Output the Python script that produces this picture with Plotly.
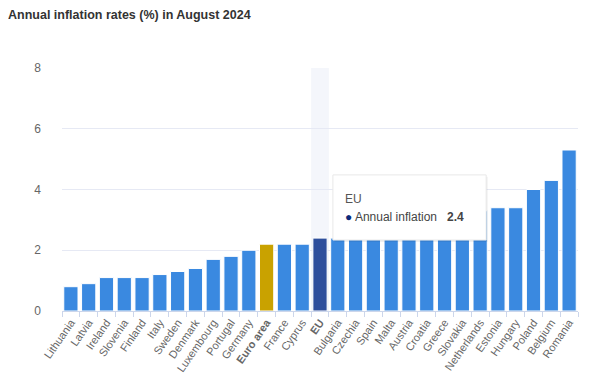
import plotly.graph_objects as go

countries = ["Lithuania", "Latvia", "Ireland", "Slovenia", "Finland", "Italy", "Sweden",
             "Denmark", "Luxembourg", "Portugal", "Germany", "Euro area", "France", "Cyprus",
             "EU", "Bulgaria", "Czechia", "Spain", "Malta", "Austria", "Croatia", "Greece",
             "Slovakia", "Netherlands", "Estonia", "Hungary", "Poland", "Belgium", "Romania"]
inflation = [0.8, 0.9, 1.1, 1.1, 1.1, 1.2, 1.3, 1.4, 1.7, 1.8, 2.0, 2.2, 2.2, 2.2,
             2.4, 2.4, 2.4, 2.4, 2.5, 2.5, 3.0, 3.2, 3.2, 3.3, 3.4, 3.4, 4.0, 4.3, 5.3]
y_ticks = [0, 2, 4, 6, 8]

BLUE = "#3a89e0"
GOLD = "#c9a200"
NAVY = "#2e4f9c"
colors = [GOLD if c == "Euro area" else NAVY if c == "EU" else BLUE for c in countries]
ticktext = [f"<b>{c}</b>" if c in ("Euro area", "EU") else c for c in countries]

fig = go.Figure()
fig.add_trace(go.Bar(
    x=countries, y=inflation, marker=dict(color=colors, line=dict(color="white", width=1)),
    name="Annual inflation", hoverinfo="skip",
))

eu_idx = countries.index("EU")
fig.add_shape(type="rect", xref="x", yref="paper", x0=eu_idx - 0.5, x1=eu_idx + 0.5,
              y0=0, y1=1, fillcolor="rgba(204,214,235,0.22)", line=dict(width=0), layer="below")

# tooltip box
tx0, tx1, ty0, ty1 = 0.525, 0.822, 0.292, 0.560
fig.add_shape(type="rect", xref="paper", yref="paper", x0=tx0 + 0.003, x1=tx1 + 0.003,
              y0=ty0 - 0.008, y1=ty1 - 0.008, fillcolor="rgba(0,0,0,0.06)", line=dict(width=0))
fig.add_shape(type="rect", xref="paper", yref="paper", x0=tx0, x1=tx1, y0=ty0, y1=ty1,
              fillcolor="white", line=dict(color="#e8e8e8", width=1))
fig.add_annotation(xref="paper", yref="paper", x=tx0 + 0.02, y=0.462, text="EU",
                   showarrow=False, xanchor="left", yanchor="middle",
                   font=dict(size=12, color="#555", family="Liberation Sans"))
fig.add_annotation(xref="paper", yref="paper", x=tx0 + 0.02, y=0.388,
                   text="<span style='color:#0b2a7a'>●</span> Annual inflation   <b>2.4</b>",
                   showarrow=False, xanchor="left", yanchor="middle",
                   font=dict(size=12, color="#444", family="Liberation Sans"))

# page body has an 8px default margin; size the figure to fit the 600x374 window
fig.update_layout(
    width=592, height=366,
    margin=dict(l=54, r=22, t=60, b=63),
    paper_bgcolor="white", plot_bgcolor="white",
    bargap=0.2, showlegend=False,
    font=dict(family="Liberation Sans", color="#666"),
    title=dict(text="<b>Annual inflation rates (%) in August 2024</b>", x=0.0, xanchor="left",
               yref="container", y=0.983, yanchor="middle", font=dict(size=12.5, color="#333")),
    xaxis=dict(tickmode="array", tickvals=countries, ticktext=ticktext, tickangle=-55,
               tickfont=dict(size=11, color="#666"), showline=True, linecolor="#ccd6eb",
               ticks="outside", ticklen=5, tickcolor="#ccd6eb", tickson="boundaries",
               showgrid=False, fixedrange=True, automargin=False),
    yaxis=dict(range=[0, 8], tickvals=y_ticks, tickfont=dict(size=12, color="#666"),
               gridcolor="#e6e9f4", zeroline=False, showline=False, ticks="",
               ticklabelstandoff=20, automargin=False),
)
fig.write_html("out.html")
